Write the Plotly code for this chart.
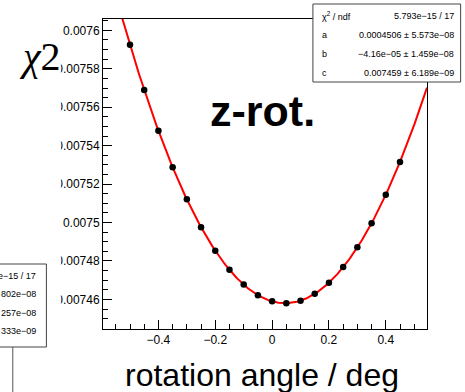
import numpy as np
import plotly.graph_objects as go

# ---- data ----
angle = [-0.5, -0.45, -0.4, -0.35, -0.3, -0.25, -0.2, -0.15, -0.1, -0.05,
         0.0, 0.05, 0.1, 0.15, 0.2, 0.25, 0.3, 0.35, 0.4, 0.45]
chi2 = [0.0075925, 0.0075690, 0.0075477, 0.0075288, 0.0075121, 0.0074976,
        0.0074853, 0.0074754, 0.0074677, 0.0074622, 0.0074590, 0.0074580,
        0.0074593, 0.0074629, 0.0074687, 0.0074768, 0.0074871, 0.0074996,
        0.0075145, 0.0075315]

# fit parameters (pol2) as shown in the stats box
fit_a = 0.0004506
fit_b = -4.16e-05
fit_c = 0.007459

stats_labels = ["χ<sup>2</sup> / ndf", "a", "b", "c"]
stats_values = ["5.793e−15 / 17", "0.0004506 ± 5.573e−08",
                "−4.16e−05 ± 1.459e−08", "0.007459 ± 6.189e−09"]
left_stats_values = ["e−15 / 17", "802e−08", "257e−08", "333e−09"]

x_ticks = [-0.4, -0.2, 0, 0.2, 0.4]
x_ticktext = ["−0.4", "−0.2", "0", "0.2", "0.4"]
y_ticks = [0.00746, 0.00748, 0.0075, 0.00752, 0.00754, 0.00756, 0.00758, 0.0076]
y_ticktext = ["0.00746", "0.00748", "0.0075", "0.00752", "0.00754", "0.00756", "0.00758", "0.0076"]

# ---- geometry ----
W, H = 465, 392
L, R, T, B = 102.7, 427.3, 19.0, 329.0
def px(x):
    return (x - L) / (R - L)
def py(y):
    return (B - y) / (B - T)

FONT = "Liberation Sans, Arial, Helvetica, sans-serif"

fx = np.linspace(-0.595, 0.545, 300)
fy = fit_a * fx**2 + fit_b * fx + fit_c

fig = go.Figure()
fig.add_trace(go.Scatter(x=fx, y=fy, mode="lines",
                         line=dict(color="#ff0000", width=2), hoverinfo="skip"))
fig.add_trace(go.Scatter(x=angle, y=chi2, mode="markers",
                         marker=dict(color="black", size=6.5)))

fig.update_layout(
    width=W, height=H,
    margin=dict(l=L, r=W - R, t=T, b=H - B, pad=0),
    paper_bgcolor="white", plot_bgcolor="white",
    showlegend=False,
    font=dict(family=FONT, color="black", size=12),
    xaxis=dict(range=[-0.595, 0.545], tickvals=x_ticks, ticktext=x_ticktext,
               ticks="inside", ticklen=9, tickwidth=1, tickcolor="black",
               minor=dict(dtick=0.05, tick0=0, ticks="inside", ticklen=5,
                          tickwidth=1, tickcolor="black", showgrid=False),
               showline=True, linecolor="black", linewidth=1, mirror=True,
               showgrid=False, zeroline=False, automargin=False,
               tickfont=dict(family=FONT, size=12, color="black")),
    yaxis=dict(range=[0.0074446, 0.0076059], tickvals=y_ticks, ticktext=y_ticktext,
               ticks="inside", ticklen=9, tickwidth=1, tickcolor="black",
               minor=dict(dtick=0.000005, tick0=0.0074, ticks="inside", ticklen=5,
                          tickwidth=1, tickcolor="black", showgrid=False),
               showline=True, linecolor="black", linewidth=1, mirror=True,
               showgrid=False, zeroline=False, automargin=False,
               tickfont=dict(family=FONT, size=12, color="black")),
)

shapes = []
# white mask clipping the leading digits of the y tick labels
shapes.append(dict(type="rect", xref="paper", yref="paper", layer="above",
                   x0=px(-5), x1=px(60.5), y0=py(H + 5), y1=py(-5),
                   fillcolor="white", line=dict(width=0)))
# stats box (top right)
shapes.append(dict(type="rect", xref="paper", yref="paper", layer="above",
                   x0=px(313), x1=px(461), y0=py(82), y1=py(4),
                   fillcolor="white", line=dict(color="#444444", width=1)))
# partial stats box from neighbouring pad (left)
shapes.append(dict(type="rect", xref="paper", yref="paper", layer="above",
                   x0=px(-10), x1=px(46), y0=py(347), y1=py(264),
                   fillcolor="white", line=dict(color="#444444", width=1)))
shapes.append(dict(type="line", xref="paper", yref="paper", layer="above",
                   x0=px(12.3), x1=px(12.3), y0=py(347), y1=py(H + 5),
                   line=dict(color="#555555", width=1)))
fig.update_layout(shapes=shapes)

ann = []
row_y = [15.5, 34.7, 54.0, 72.7]
for lab, val, yy in zip(stats_labels, stats_values, row_y):
    ann.append(dict(xref="paper", yref="paper", x=px(320), y=py(yy), text=lab,
                    showarrow=False, xanchor="left", yanchor="middle",
                    font=dict(family=FONT, size=9, color="black")))
    ann.append(dict(xref="paper", yref="paper", x=px(456), y=py(yy), text=val,
                    showarrow=False, xanchor="right", yanchor="middle",
                    font=dict(family=FONT, size=9, color="black")))
left_row_y = [275.7, 294.0, 312.7, 331.0]
for val, yy in zip(left_stats_values, left_row_y):
    ann.append(dict(xref="paper", yref="paper", x=px(38), y=py(yy), text=val,
                    showarrow=False, xanchor="right", yanchor="middle",
                    font=dict(family=FONT, size=9, color="black")))
# y title
ann.append(dict(xref="paper", yref="paper", x=px(40), y=py(56), text="<i>χ</i>2",
                showarrow=False, xanchor="center", yanchor="middle",
                font=dict(family="Liberation Serif, Times New Roman, serif", size=40, color="black")))
# z-rot. label
ann.append(dict(xref="paper", yref="paper", x=px(262), y=py(111), text="<b>z-rot.</b>",
                showarrow=False, xanchor="center", yanchor="middle",
                font=dict(family=FONT, size=43, color="black")))
# x title
ann.append(dict(xref="paper", yref="paper", x=px(262), y=py(375), text="rotation angle / deg",
                showarrow=False, xanchor="center", yanchor="middle",
                font=dict(family=FONT, size=32, color="black")))
fig.update_layout(annotations=ann)

fig.write_html("out.html",
               config={"displayModeBar": False},
               post_script="document.body.style.margin='0px';document.body.style.overflow='hidden';")
